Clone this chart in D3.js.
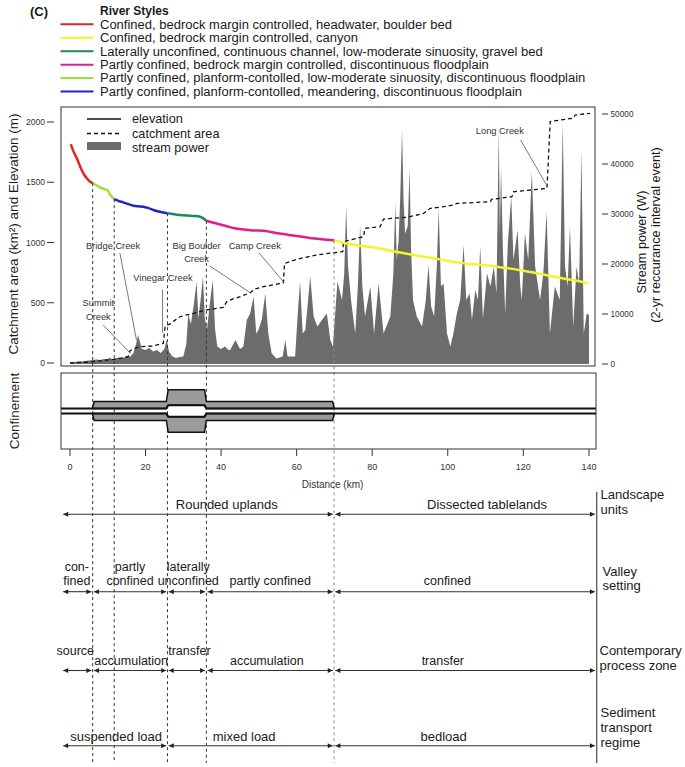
<!DOCTYPE html>
<html><head><meta charset="utf-8">
<script src="https://cdn.jsdelivr.net/npm/d3@7"></script>
<style>
body{margin:0;background:#fff}
text{font-family:"Liberation Sans",Arial,Helvetica,sans-serif;fill:#1a1a1a}
</style>
</head><body>
<svg id="chart" width="685" height="767"></svg>
<script>
// ---------------- DATA ----------------
const styleNames = [
  "Confined, bedrock margin controlled, headwater, boulder bed",
  "Confined, bedrock margin controlled, canyon",
  "Laterally unconfined, continuous channel, low-moderate sinuosity, gravel bed",
  "Partly confined, bedrock margin controlled, discontinuous floodplain",
  "Partly confined, planform-contolled, low-moderate sinuosity, discontinuous floodplain",
  "Partly confined, planform-contolled, meandering, discontinuous floodplain"
];
const styleColors = ["#e0262a", "#f4f42a", "#1f8a55", "#e0208a", "#9fe03a", "#2424c4"];

// breaks along the river (km) and the style of each reach, upstream to downstream
const breakKm = [6.0, 11.7, 25.8, 36.1, 69.9];
const reachStyle = [0, 4, 5, 2, 3, 1];

// elevation profile (km, m)
const elevKm = [0.2,1,1.8,2.5,3.1,3.8,4.6,5.3,6.0,7,7.9,9,9.9,10.6,11.7,12.8,14.1,15.5,16.8,18,19.4,20.8,22.1,23.8,25.8,27.5,29.1,31,33,34.4,35.3,36.1,37.5,39.7,41.5,43.3,45.5,47.2,49,51.2,53.5,56,58,60,62,64,66,68,69.9,72.4,76,79,82.1,86,91,95,98,100,102.4,106,111.3,115,120.1,125,130.2,135,139.8];
const elevM  = [1815,1750,1699,1645,1601,1560,1527,1505,1493,1475,1458,1445,1436,1398,1360,1345,1333,1318,1305,1300,1297,1285,1270,1255,1243,1235,1229,1224,1220,1214,1200,1180,1168,1150,1135,1120,1110,1103,1100,1098,1085,1072,1063,1054,1045,1036,1029,1023,1018,998,978,965,951,925,896,875,860,848,835,822,807,790,766,740,711,688,661];

// catchment area (km, km2) – stepped
const catchKm = [0,3,6.2,9,11.5,13.5,15.4,15.9,17,18.5,22,24.7,25.2,26.5,28,29.1,31,32.7,36.2,40.6,41.5,43,45,47.7,49,51.2,54,56.5,56.8,60,62,65.4,69.7,72.2,72.4,74.2,77.7,78.1,82.1,83,89.2,93.6,95.4,98.9,101.5,102.4,111.3,111.6,117,117.4,127.2,128.2,131.2,135.2,135.8,140.3];
const catchA  = [0,5,11,20,30,40,52,102,120,135,141,163,307,324,360,384,400,412,440,462,509,530,550,583,615,633,650,666,826,860,875,896,915,924,1007,1021,1048,1118,1131,1195,1209,1241,1284,1297,1311,1324,1339,1358,1380,1421,1449,2003,2017,2031,2058,2072];

// stream power (km, W)
const spKm = [0,1,2,3,4,5,6,7,8,9,10,10.6,11.2,12,13,14,15,16,16.8,17.5,18,18.5,19,20,21,22,23,24,25,25.6,26.2,27,28,29,30,30.8,31.3,32,32.8,33.5,34,34.6,35.2,35.7,36.3,37,37.8,38.4,39,40,41,42,42.4,43.8,45,45.9,46.8,47.7,48.6,49.3,49.9,50.8,51.7,52.5,53.4,54.7,56.3,57,57.6,59.6,60.3,60.9,61.6,62.3,63.6,64.5,65.5,66.7,68,68.9,69.6,70.8,72,72.6,73.1,73.6,74.4,75.5,76.2,76.8,77.4,78.1,79.5,80.5,81.7,83,84.8,85.6,86.1,86.5,87,87.4,87.9,88.3,88.7,89.4,89.9,90.3,90.8,91.8,93.2,94.2,94.9,95.6,96.4,97.1,97.6,98.2,98.9,99.8,100.7,101.5,102.4,103.3,104.2,104.9,105.8,106.4,107.3,108,108.6,109.3,110.4,111.3,112.2,112.9,113.5,113.8,114.1,114.6,115.2,115.9,116.8,117.4,118.5,119.2,119.6,120.5,121.5,122.6,123.6,125.1,126.1,127.1,128.1,129.6,131.1,132,132.7,133.5,134.2,135.2,136.2,137,137.7,138.4,139.3,140];
const spW  = [300,400,500,500,600,700,800,900,800,1000,1000,1300,900,1100,1300,1200,1600,1500,2200,4000,5800,4500,3000,2800,3200,2500,2800,2200,3000,4800,2500,1600,1200,1400,1500,4000,10000,8000,12000,16500,9000,13000,17500,9000,7000,12000,16800,7000,3500,3000,3500,2800,2800,4800,3000,3500,8800,10100,13500,6100,6800,9000,14100,6100,2100,1100,1500,4800,1500,1500,10100,16500,6100,6800,17500,9500,7500,8800,10100,4800,3500,16500,12800,18100,31500,19500,12800,6100,15500,27800,15500,9500,15500,6100,16100,6100,9500,18100,32100,20800,24800,32800,46900,32800,26100,27500,39100,22800,12800,9500,7500,12800,19800,11500,9500,19500,31100,15500,16100,6100,3500,6100,10100,12800,23800,12800,14100,8800,14800,12800,23500,9100,18100,15500,19500,14100,46800,26100,39500,22800,10100,24100,33500,20800,26800,15500,12800,26100,20800,38500,19500,12800,18100,30500,6100,15500,12800,48100,19500,15500,27500,7500,19500,16100,42800,6100,10100,9800];

// confinement profile (km, half widths)
const confKm      = [-5, 5.9, 6.4, 25.5, 26.0, 35.6, 36.1, 69.5, 70.0, 145];
const bandOuter   = [0.66, 0.66, 2.5, 2.5, 5.6, 5.6, 2.5, 2.5, 0.66, 0.66];
const channelHalf = [0.66, 0.66, 0.66, 0.66, 1.5, 1.5, 0.66, 0.66, 0.66, 0.66];

const leftTicks = [0, 500, 1000, 1500, 2000];
const rightTicks = [0, 10000, 20000, 30000, 40000, 50000];
const xTicks = [0, 20, 40, 60, 80, 100, 120, 140];

// creek tributary pointers: from label (lx km, la) to junction (km, a); label anchor (cx, cy)
const creeks = [
  {name:["Summit","Creek"], km:16.0, a:80, lx:8.8, la:315, cx:7.5, cy:470},
  {name:["Bridge Creek"], km:17.6, a:190, lx:13.2, la:915, cx:11.4, cy:945},
  {name:["Vinegar Creek"], km:24.5, a:250, lx:24.5, la:610, cx:24.6, cy:680},
  {name:["Big Boulder","Creek"], km:47.7, a:583, lx:37.0, la:805, cx:33.5, cy:945},
  {name:["Camp Creek"], km:56.5, a:675, lx:50.0, la:915, cx:48.9, cy:945},
  {name:["Long Creek"], km:127.0, a:1480, lx:119.3, la:1850, cx:113.8, cy:1900}
];

const edgeKm = [-1.8, 141.8];
const rows = [
  {title:["Landscape","units"], segs:[[-1.8,69.9],[69.9,141.8]],
   labels:[["Rounded uplands"],["Dissected tablelands"]], labelKm:[41.5,110.4], level:[0,0]},
  {title:["Valley","setting"], segs:[[-1.8,6],[6,25.8],[25.8,36.1],[36.1,69.9],[69.9,141.8]],
   labels:[["con-","fined"],["partly","confined"],["laterally","unconfined"],["partly confined"],["confined"]],
   labelKm:[1.8,15.9,31.3,53,99.9], level:[0,0,0,0,0]},
  {title:["Contemporary","process zone"], segs:[[-1.8,6],[6,25.8],[25.8,36.1],[36.1,69.9],[69.9,141.8]],
   labels:[["source"],["accumulation"],["transfer"],["accumulation"],["transfer"]],
   labelKm:[1.4,16.2,31.6,52.1,98.7], level:[1,0,1,0,0]},
  {title:["Sediment","transport","regime"], segs:[[-1.8,25.8],[25.8,69.9],[69.9,141.8]],
   labels:[["suspended load"],["mixed load"],["bedload"]], labelKm:[12.2,46.1,98.9], level:[0,0,0]}
];

// ---------------- DRAW ----------------
const svg = d3.select("#chart");
const P = {l:61, r:595, t:107, b:366};
const C = {l:61, r:596, t:373, b:449};

const x = d3.scaleLinear().domain([0,120,140]).range([70,523.3,589]);
const yL = d3.scaleLinear().domain([0,2000]).range([363,122]);
const yR = d3.scaleLinear().domain([0,50000]).range([364,114]);
const yC = d3.scaleLinear().domain([-10,10]).range([C.b, C.t]);

// multi-line text helper: one <text> with stacked tspans
function multiText(g, lines, xp, yFirst, lh, size, anchor, fill){
  const t = g.append("text").attr("x",xp).attr("y",yFirst).attr("text-anchor",anchor||"start")
    .style("font-size",size);
  if (fill) t.style("fill",fill);
  lines.forEach((l,j)=>{
    t.append("tspan").attr("x",xp).attr("dy", j===0 ? 0 : lh).text(l);
  });
  return t;
}

// header
svg.append("text").attr("x",30).attr("y",16).style("font-size","13px").style("font-weight","bold").text("(C)");
svg.append("text").attr("x",100).attr("y",15).style("font-size","12px").style("font-weight","bold").text("River Styles");
styleNames.forEach((n,i)=>{
  const cy = 24.3 + i*13.45;
  svg.append("line").attr("x1",60.5).attr("x2",93.5).attr("y1",cy).attr("y2",cy)
     .attr("stroke",styleColors[i]).attr("stroke-width",2);
  const t = svg.append("text").attr("x",100).attr("y",cy+4.3).style("font-size","13px").text(n);
  const w = t.node().getComputedTextLength();
  t.style("font-size","12px").attr("textLength", w).attr("lengthAdjust","spacingAndGlyphs");
});

svg.append("clipPath").attr("id","cp").append("rect").attr("x",P.l).attr("y",P.t).attr("width",P.r-P.l).attr("height",P.b-P.t);
svg.append("clipPath").attr("id","cc").append("rect").attr("x",C.l).attr("y",C.t).attr("width",C.r-C.l).attr("height",C.b-C.t);

const topG = svg.append("g").attr("clip-path","url(#cp)");
// stream power
const spData = spKm.map((k,i)=>[k,spW[i]]);
topG.append("path").datum(spData)
  .attr("d", d3.area().x(d=>x(d[0])).y0(yR(0)).y1(d=>yR(d[1])))
  .attr("fill","#6c6c6c");

// catchment area
const caData = catchKm.map((k,i)=>[k,catchA[i]]);
topG.append("path").datum(caData)
  .attr("d", d3.line().x(d=>x(d[0])).y(d=>yL(d[1])))
  .attr("fill","none").attr("stroke","#111").attr("stroke-width",1.3).attr("stroke-dasharray","4,3");

// vertical dashed breaks
const elevInterp = d3.scaleLinear().domain(elevKm).range(elevM);
breakKm.forEach((k,i)=>{
  svg.append("line").attr("x1",x(k)).attr("x2",x(k)).attr("y1",yL(elevInterp(k))).attr("y2",763)
    .attr("stroke", i===4 ? "#8a8a8a" : "#333").attr("stroke-width",1).attr("stroke-dasharray","3,3");
});

// elevation reaches
const bounds = [-Infinity, ...breakKm, Infinity];
reachStyle.forEach((s,i)=>{
  const seg = elevKm.map((k,j)=>[k,elevM[j]]).filter(d=>d[0]>=bounds[i] && d[0]<=bounds[i+1]);
  topG.append("path").datum(seg)
    .attr("d", d3.line().x(d=>x(d[0])).y(d=>yL(d[1])).curve(d3.curveMonotoneX))
    .attr("fill","none").attr("stroke",styleColors[s]).attr("stroke-width",2.5);
});

// creek labels
creeks.forEach(c=>{
  svg.append("line").attr("x1",x(c.lx)).attr("y1",yL(c.la))
     .attr("x2",x(c.km)).attr("y2",yL(c.a)).attr("stroke","#555").attr("stroke-width",0.8);
  multiText(svg, c.name, x(c.cx), yL(c.cy), 13.3, "9.3px", "middle", "#333");
});

// frame top panel
svg.append("rect").attr("x",P.l).attr("y",P.t).attr("width",P.r-P.l).attr("height",P.b-P.t)
  .attr("fill","none").attr("stroke","#333").attr("stroke-width",1);

// inner legend
svg.append("line").attr("x1",87).attr("x2",121).attr("y1",119).attr("y2",119).attr("stroke","#111").attr("stroke-width",1.4);
svg.append("line").attr("x1",87).attr("x2",121).attr("y1",133.5).attr("y2",133.5).attr("stroke","#111").attr("stroke-width",1.4).attr("stroke-dasharray","4,3");
svg.append("rect").attr("x",87).attr("y",142).attr("width",34).attr("height",8).attr("fill","#6c6c6c");
[["elevation",122.5],["catchment area",137.5],["stream power",152]].forEach(d=>{
  svg.append("text").attr("x",132).attr("y",d[1]).style("font-size","12.7px").text(d[0]);
});

// left axis
leftTicks.forEach(v=>{
  svg.append("line").attr("x1",47).attr("x2",54).attr("y1",yL(v)).attr("y2",yL(v)).attr("stroke","#333");
  svg.append("text").attr("x",45).attr("y",yL(v)+3.2).attr("text-anchor","end").style("font-size","8.6px").style("fill","#333").text(v);
});
// right axis
rightTicks.forEach(v=>{
  svg.append("line").attr("x1",602).attr("x2",608).attr("y1",yR(v)).attr("y2",yR(v)).attr("stroke","#333");
  svg.append("text").attr("x",610.5).attr("y",yR(v)+3.2).style("font-size","8.3px").style("fill","#333").text(v);
});
// axis titles
svg.append("text").attr("transform","translate(17.5,234) rotate(-90)").attr("text-anchor","middle")
  .style("font-size","13.5px").text("Catchment area (km\u00B2) and Elevation (m)");
svg.append("text").attr("transform","translate(646,242) rotate(-90)").attr("text-anchor","middle").style("font-size","12.7px").text("Stream power (W)");
svg.append("text").attr("transform","translate(659.5,235) rotate(-90)").attr("text-anchor","middle").style("font-size","12.7px").text("(2-yr reccurance interval event)");

// confinement panel
const cg = svg.append("g").attr("clip-path","url(#cc)");
const cData = confKm.map((k,i)=>({k, o:bandOuter[i], c:channelHalf[i]}));
const bandSel = cData.filter(d=>d.k>5 && d.k<71);
[1,-1].forEach(sg=>{
  cg.append("path").datum(bandSel)
    .attr("d", d3.area().x(d=>x(d.k)).y0(d=>yC(sg*d.c)).y1(d=>yC(sg*d.o)))
    .attr("fill","#9b9b9b").attr("stroke","#111").attr("stroke-width",1.5);
  cg.append("path").datum(cData)
    .attr("d", d3.line().x(d=>x(d.k)).y(d=>yC(sg*d.c)))
    .attr("fill","none").attr("stroke","#111").attr("stroke-width",2);
});
svg.append("rect").attr("x",C.l).attr("y",C.t).attr("width",C.r-C.l).attr("height",C.b-C.t)
  .attr("fill","none").attr("stroke","#333").attr("stroke-width",1);
svg.append("text").attr("transform","translate(19,411) rotate(-90)").attr("text-anchor","middle").style("font-size","13.5px").text("Confinement");

// x axis
xTicks.forEach(v=>{
  svg.append("line").attr("x1",x(v)).attr("x2",x(v)).attr("y1",C.b).attr("y2",C.b+7).attr("stroke","#333");
  svg.append("text").attr("x",x(v)).attr("y",470).attr("text-anchor","middle").style("font-size","9px").style("fill","#333").text(v);
});
svg.append("text").attr("x",x(69.5)).attr("y",487.5).attr("text-anchor","middle").style("font-size","10px").style("fill","#333").text("Distance (km)");

// bottom rows
const rowArrowY = [514.3, 591.7, 670.5, 745.7];
const rowTextOff = [5, 7, 6, 5];
const rowTitleY = [499, 575.7, 655, 717.3];
const rowTitleX = [600.5, 602.5, 599.5, 600.5];

svg.append("defs").html(
 '<marker id="ah" viewBox="0 0 10 10" refX="10" refY="5" markerWidth="6" markerHeight="5" orient="auto-start-reverse" markerUnits="userSpaceOnUse"><path d="M0,0 L10,5 L0,10 z" fill="#222"/></marker>');

rows.forEach((r,ri)=>{
  const ay = rowArrowY[ri];
  r.segs.forEach(s=>{
    const x1 = x(s[0]) + (s[0]===edgeKm[0]?0:1.3);
    const x2 = x(s[1]) - (s[1]===edgeKm[1]?0:1.3);
    svg.append("line").attr("x1",x1).attr("x2",x2).attr("y1",ay).attr("y2",ay)
      .attr("stroke","#333").attr("stroke-width",1.1)
      .attr("marker-start","url(#ah)").attr("marker-end","url(#ah)");
  });
  r.labels.forEach((lines,li)=>{
    const base = ay - rowTextOff[ri] - r.level[li]*9.5;
    const fs = (ri===1 || ri===2) ? "12.5px" : "13px";
    multiText(svg, lines, x(r.labelKm[li]), base-(lines.length-1)*14, 14, fs, "middle");
  });
  multiText(svg, r.title, rowTitleX[ri], rowTitleY[ri], 14.6, "13px", "start");
});
svg.append("line").attr("x1",596.7).attr("x2",596.7).attr("y1",491.7).attr("y2",763).attr("stroke","#555").attr("stroke-width",1.3);
</script>
</body></html>
